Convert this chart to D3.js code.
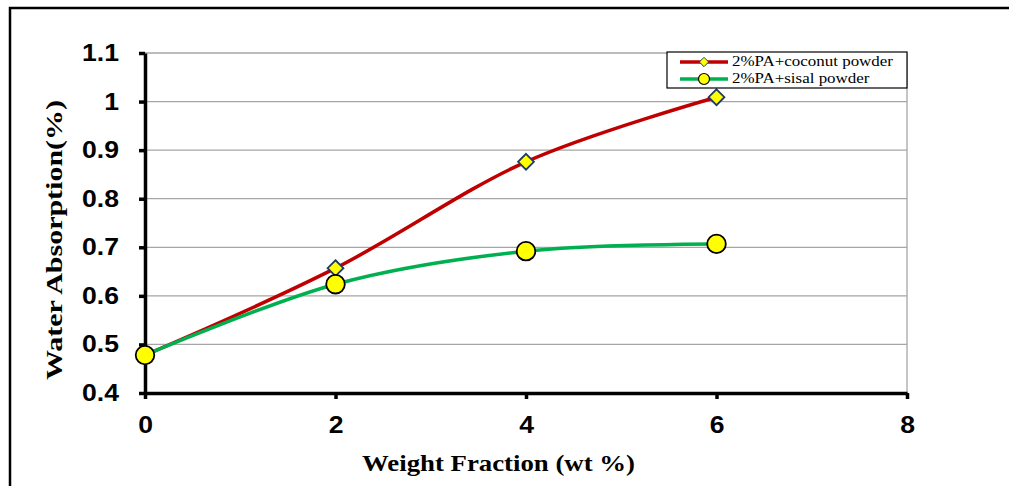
<!DOCTYPE html>
<html><head><meta charset="utf-8">
<script src="https://cdn.jsdelivr.net/npm/d3@7"></script>
<style>body{margin:0;background:#fff}svg{display:block}</style>
</head><body><svg id="c" width="1009" height="486"></svg>
<script>
const xValues = [0, 2, 4, 6];
const coconut = [0.478, 0.657, 0.876, 1.009];
const sisal = [0.478, 0.624, 0.692, 0.707];
const seriesNames = ["2%PA+coconut powder", "2%PA+sisal powder"];
const xTicks = [0, 2, 4, 6, 8];
const yTicks = [0.4, 0.5, 0.6, 0.7, 0.8, 0.9, 1, 1.1];
const xTitle = "Weight Fraction (wt %)";
const yTitle = "Water Absorption(%)";

const svg = d3.select("#c");
const STRETCH = 1.13;
function stretch(sel, f){
  sel.each(function(){
    const len = this.getComputedTextLength();
    d3.select(this).attr("textLength", len*(f||STRETCH)).attr("lengthAdjust","spacingAndGlyphs");
  });
}
// outer frame
svg.append("rect").attr("x",10).attr("y",8).attr("width",1010).attr("height",490)
  .attr("fill","none").attr("stroke","#000").attr("stroke-width",2.5);

const x = d3.scaleLinear().domain([0,8]).range([145,907]);
const y = d3.scaleLinear().domain([0.4,1.1]).range([393,53]);

// gridlines
svg.append("g").selectAll("line").data(yTicks.filter(d=>d>0.4)).join("line")
  .attr("x1",x(0)).attr("x2",x(8)).attr("y1",d=>y(d)).attr("y2",d=>y(d))
  .attr("stroke","#a6a6a6").attr("stroke-width",1.3);
svg.append("line").attr("x1",x(8)).attr("x2",x(8)).attr("y1",y(1.1)).attr("y2",y(0.4))
  .attr("stroke","#a6a6a6").attr("stroke-width",1.3);

// axes
const fmt = d => String(d);
const xAxis = svg.append("g").attr("transform",`translate(0,${y(0.4)})`)
  .call(d3.axisBottom(x).tickValues(xTicks).tickFormat(fmt).tickSize(6).tickSizeOuter(0).tickPadding(17));
const yAxis = svg.append("g").attr("transform",`translate(${x(0)},0)`)
  .call(d3.axisLeft(y).tickValues(yTicks).tickFormat(fmt).tickSize(6).tickSizeOuter(0).tickPadding(20));
[xAxis,yAxis].forEach(a=>{
  a.select(".domain").attr("stroke","#000").attr("stroke-width",3.5);
  a.selectAll(".tick line").attr("stroke","#000").attr("stroke-width",3.5);
  a.selectAll(".tick text").attr("fill","#000").style("font-family","Liberation Sans, Arial, sans-serif")
    .style("font-weight","bold").style("font-size","23.5px");
  stretch(a.selectAll(".tick text"));
});

// lines
const line = d3.line().x((d,i)=>x(xValues[i])).y(d=>y(d)).curve(d3.curveCardinal.tension(0));
svg.append("path").datum(coconut).attr("d",line).attr("fill","none").attr("stroke","#c00000").attr("stroke-width",3.5);
svg.append("path").datum(sisal).attr("d",line).attr("fill","none").attr("stroke","#00b050").attr("stroke-width",3.5);

const diamond = d3.symbol().type(d3.symbolDiamond2).size(160);
svg.append("g").selectAll("path").data(coconut).join("path")
  .attr("d",diamond).attr("transform",(d,i)=>`translate(${x(xValues[i])},${y(d)})`)
  .attr("fill","#ffff00").attr("stroke","#1f3864").attr("stroke-width",1.8);
svg.append("g").selectAll("circle").data(sisal).join("circle")
  .attr("cx",(d,i)=>x(xValues[i])).attr("cy",d=>y(d)).attr("r",9.3)
  .attr("fill","#ffff00").attr("stroke","#000").attr("stroke-width",1.8);

// titles
const xt = svg.append("text").attr("x",498.5).attr("y",471).attr("text-anchor","middle")
  .style("font-family","Liberation Serif, Times New Roman, serif").style("font-weight","bold").style("font-size","24px")
  .text(xTitle).attr("textLength",273).attr("lengthAdjust","spacingAndGlyphs");
const yt = svg.append("text").attr("transform","translate(62,240) rotate(-90)").attr("text-anchor","middle")
  .style("font-family","Liberation Serif, Times New Roman, serif").style("font-weight","bold").style("font-size","24px")
  .text(yTitle).attr("textLength",280).attr("lengthAdjust","spacingAndGlyphs");

// legend
const lg = svg.append("g");
lg.append("rect").attr("x",667).attr("y",52).attr("width",240).attr("height",36)
  .attr("fill","#fff").attr("stroke","#000").attr("stroke-width",1.2);
const colors = ["#c00000","#00b050"];
seriesNames.forEach((n,i)=>{
  const cy = 62 + i*17;
  lg.append("line").attr("x1",680).attr("x2",728).attr("y1",cy).attr("y2",cy)
    .attr("stroke",colors[i]).attr("stroke-width",3.5);
  if(i===0){
    lg.append("path").attr("d",d3.symbol().type(d3.symbolDiamond2).size(55)).attr("transform",`translate(704,${cy})`)
      .attr("fill","#ffff00").attr("stroke","#1f3864").attr("stroke-width",1);
  } else {
    lg.append("circle").attr("cx",704).attr("cy",cy).attr("r",5.5).attr("fill","#ffff00").attr("stroke","#000").attr("stroke-width",1.2);
  }
  const t = lg.append("text").attr("x",732).attr("y",cy+4)
    .style("font-family","Liberation Serif, Times New Roman, serif").style("font-size","15px").text(n);
  stretch(t);
});
</script></body></html>
